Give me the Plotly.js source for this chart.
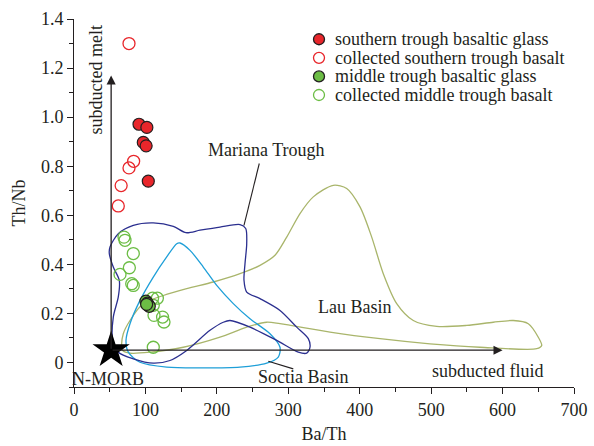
<!DOCTYPE html>
<html>
<head>
<meta charset="utf-8">
<script src="https://cdn.plot.ly/plotly-3.0.1.min.js"></script>
<style>html,body{margin:0;padding:0;background:#fff}#chart{width:594px;height:446px}</style>
</head>
<body>
<div id="chart"></div>
<script>
// ---- data (Ba/Th, Th/Nb) ----
const southernGlassX = [91, 102, 97, 101, 104];
const southernGlassY = [0.971, 0.958, 0.897, 0.883, 0.739];
const southernCollX = [77, 83.5, 77, 66, 62];
const southernCollY = [1.30, 0.82, 0.793, 0.721, 0.638];
const middleGlassX = [100.8, 102.7, 104, 105.4, 101.7];
const middleGlassY = [0.250, 0.242, 0.233, 0.229, 0.237];
const middleCollX = [70, 71.4, 83, 77.5, 64.4, 80.8, 83, 110, 116.7, 111, 112, 124, 126, 111, 101.7];
const middleCollY = [0.511, 0.498, 0.444, 0.386, 0.359, 0.321, 0.314, 0.262, 0.262, 0.233, 0.192, 0.185, 0.165, 0.062, 0.240];
const nmorbX = [52];
const nmorbY = [0.05];

// field outlines
const marianaX = [50.4, 62.0, 83.0, 111.0, 139.0, 156.8, 176.4, 204.4, 232.4, 240.4, 241.8, 239.4, 238, 241.8, 260.4, 288.4, 311.8, 328.0, 330.4, 325.8, 314.0, 283.8, 246.4, 218.4, 209.0, 190.4, 157.8, 134.4, 111.0, 83.0, 62.0, 54.2, 55.0, 62.0, 63.4, 55.0, 49.4, 50.4];
const marianaY = [0.471, 0.525, 0.559, 0.569, 0.555, 0.529, 0.539, 0.552, 0.562, 0.546, 0.484, 0.403, 0.335, 0.287, 0.260, 0.212, 0.144, 0.097, 0.062, 0.038, 0.042, 0.090, 0.144, 0.171, 0.164, 0.131, 0.049, 0.008, -0.003, 0.015, 0.042, 0.090, 0.185, 0.267, 0.335, 0.389, 0.444, 0.471];
const scotiaX = [148.4, 162.4, 181.0, 199.8, 223.0, 246.4, 274.4, 288.4, 286.0, 269.8, 232.4, 176.4, 129.8, 92.4, 76.0, 72.8, 78.4, 92.4, 111.0, 129.8, 143.8, 148.4];
const scotiaY = [0.487, 0.457, 0.389, 0.314, 0.240, 0.178, 0.117, 0.062, 0.022, -0.003, -0.019, -0.022, -0.019, 0.001, 0.042, 0.090, 0.158, 0.253, 0.348, 0.430, 0.484, 0.487];
const lauX = [66.8, 69.0, 78.4, 97.0, 125.0, 157.8, 195.0, 232.4, 260.4, 281.4, 297.8, 316.4, 335.0, 363.0, 381.8, 400.4, 416.8, 433.0, 451.8, 475.0, 507.8, 549.8, 587.0, 615.0, 636.0, 650.0, 654.8, 647.8, 568.4, 498.4, 428.4, 358.4, 288.4, 269.8, 241.8, 204.4, 153.0, 106.4, 78.4, 68.2, 66.8];
const lauY = [0.062, 0.117, 0.171, 0.240, 0.273, 0.301, 0.328, 0.362, 0.396, 0.437, 0.511, 0.607, 0.675, 0.722, 0.709, 0.634, 0.511, 0.362, 0.240, 0.171, 0.147, 0.151, 0.164, 0.171, 0.158, 0.103, 0.069, 0.056, 0.062, 0.076, 0.097, 0.124, 0.158, 0.164, 0.144, 0.103, 0.062, 0.042, 0.038, 0.049, 0.062];

// vectors and annotation anchors
const meltArrowTop = [52, 1.17];
const fluidArrowEnd = [600, 0.05];
const marianaLeaderX = [259.4, 238];
const marianaLeaderY = [0.811, 0.559];
const scotiaLeaderX = [272, 307];
const scotiaLeaderY = [0.005, -0.026];

const xTickVals = [0, 100, 200, 300, 400, 500, 600, 700];
const yTickVals = [0, 0.2, 0.4, 0.6, 0.8, 1.0, 1.2, 1.4];
const yTickText = ['0', '0.2', '0.4', '0.6', '0.8', '1.0', '1.2', '1.4'];

const legendLabels = ['southern trough basaltic glass', 'collected southern trough basalt', 'middle trough basaltic glass', 'collected middle trough basalt'];

const RED = '#e8262b', GREEN = '#6cbd45', DARK = '#231f20';
const FONT = 'Liberation Serif, Times New Roman, serif';

const traces = [
  {x: lauX, y: lauY, mode: 'lines', line: {color: '#a9b56b', width: 1.3, shape: 'spline', smoothing: 0.8}, hoverinfo: 'skip'},
  {x: scotiaX, y: scotiaY, mode: 'lines', line: {color: '#1e9fd8', width: 1.3, shape: 'spline', smoothing: 0.8}, hoverinfo: 'skip'},
  {x: marianaX, y: marianaY, mode: 'lines', line: {color: '#2b2f8f', width: 1.3, shape: 'spline', smoothing: 0.8}, hoverinfo: 'skip'},
  {x: southernCollX, y: southernCollY, mode: 'markers', marker: {symbol: 'circle-open', size: 12, color: RED, line: {width: 1.3}}},
  {x: southernGlassX, y: southernGlassY, mode: 'markers', marker: {symbol: 'circle', size: 12, color: RED, line: {color: DARK, width: 1.2}}},
  {x: middleCollX, y: middleCollY, mode: 'markers', marker: {symbol: 'circle-open', size: 12, color: GREEN, line: {width: 1.3}}},
  {x: middleGlassX, y: middleGlassY, mode: 'markers', marker: {symbol: 'circle', size: 12, color: GREEN, line: {color: DARK, width: 1.2}}},
  {x: nmorbX, y: nmorbY, mode: 'markers', marker: {symbol: 'star', size: 28, color: '#000'}}
];

// custom legend (paper coordinates)
const legendFill = [RED, '#ffffff', GREEN, '#ffffff'];
const legendEdge = [DARK, RED, DARK, GREEN];
const legX = 0.49, legTextX = 0.518, legY0 = 0.945, legStep = 0.0505;

const shapes = [
  {type: 'line', xref: 'x', yref: 'y', x0: marianaLeaderX[0], y0: marianaLeaderY[0], x1: marianaLeaderX[1], y1: marianaLeaderY[1], line: {color: DARK, width: 1.1}},
  {type: 'line', xref: 'x', yref: 'y', x0: scotiaLeaderX[0], y0: scotiaLeaderY[0], x1: scotiaLeaderX[1], y1: scotiaLeaderY[1], line: {color: DARK, width: 1.1}}
];
const annotations = [
  {x: meltArrowTop[0], y: meltArrowTop[1], ax: nmorbX[0], ay: nmorbY[0], xref: 'x', yref: 'y', axref: 'x', ayref: 'y', text: '', showarrow: true, arrowhead: 2, arrowsize: 1.4, arrowwidth: 1.3, arrowcolor: DARK},
  {x: fluidArrowEnd[0], y: fluidArrowEnd[1], ax: nmorbX[0], ay: nmorbY[0], xref: 'x', yref: 'y', axref: 'x', ayref: 'y', text: '', showarrow: true, arrowhead: 2, arrowsize: 1.4, arrowwidth: 1.3, arrowcolor: DARK},
  {x: 31, y: 1.15, xref: 'x', yref: 'y', text: 'subducted melt', textangle: -90, showarrow: false, font: {family: FONT, size: 18, color: DARK}},
  {x: 579, y: -0.033, xref: 'x', yref: 'y', text: 'subducted fluid', showarrow: false, font: {family: FONT, size: 18, color: DARK}},
  {x: 47, y: -0.069, xref: 'x', yref: 'y', text: 'N-MORB', showarrow: false, font: {family: FONT, size: 18, color: DARK}},
  {x: 268.8, y: 0.865, xref: 'x', yref: 'y', text: 'Mariana Trough', showarrow: false, font: {family: FONT, size: 18, color: DARK}},
  {x: 393, y: 0.226, xref: 'x', yref: 'y', text: 'Lau Basin', showarrow: false, font: {family: FONT, size: 18, color: DARK}},
  {x: 321, y: -0.061, xref: 'x', yref: 'y', text: 'Soctia Basin', showarrow: false, font: {family: FONT, size: 18, color: DARK}}
];
legendLabels.forEach((lab, i) => {
  const yy = legY0 - i * legStep;
  shapes.push({type: 'circle', xref: 'paper', yref: 'paper', xsizemode: 'pixel', ysizemode: 'pixel', xanchor: legX, yanchor: yy, x0: -5.5, x1: 5.5, y0: -5.5, y1: 5.5, fillcolor: legendFill[i], line: {color: legendEdge[i], width: 1.3}});
  annotations.push({x: legTextX, y: yy, xref: 'paper', yref: 'paper', xanchor: 'left', yanchor: 'middle', text: lab, showarrow: false, font: {family: FONT, size: 18, color: DARK}});
});

const layout = {
  width: 594, height: 446,
  margin: {l: 74, r: 20, t: 19, b: 59},
  paper_bgcolor: '#fff', plot_bgcolor: '#fff',
  showlegend: false,
  font: {family: FONT, size: 18, color: DARK},
  xaxis: {
    range: [0, 700], tickvals: xTickVals, ticks: 'outside', ticklen: 6, tickwidth: 1, tickcolor: DARK,
    minor: {dtick: 50, ticks: 'outside', ticklen: 4, tickcolor: DARK},
    showline: true, linecolor: DARK, linewidth: 1, showgrid: false, zeroline: false,
    tickfont: {family: FONT, size: 18, color: DARK},
    title: {text: 'Ba/Th', font: {family: FONT, size: 18, color: DARK}, standoff: 8}
  },
  yaxis: {
    range: [-0.1, 1.4], tickvals: yTickVals, ticktext: yTickText, ticks: 'outside', ticklen: 6, tickwidth: 1, tickcolor: DARK,
    minor: {dtick: 0.1, tick0: 0, ticks: 'outside', ticklen: 4, tickcolor: DARK},
    showline: true, linecolor: DARK, linewidth: 1, showgrid: false, zeroline: false,
    tickfont: {family: FONT, size: 18, color: DARK},
    title: {text: 'Th/Nb', font: {family: FONT, size: 18, color: DARK}, standoff: 10}
  },
  shapes: shapes,
  annotations: annotations
};

Plotly.newPlot('chart', traces, layout, {displayModeBar: false, staticPlot: true});
</script>
</body>
</html>
